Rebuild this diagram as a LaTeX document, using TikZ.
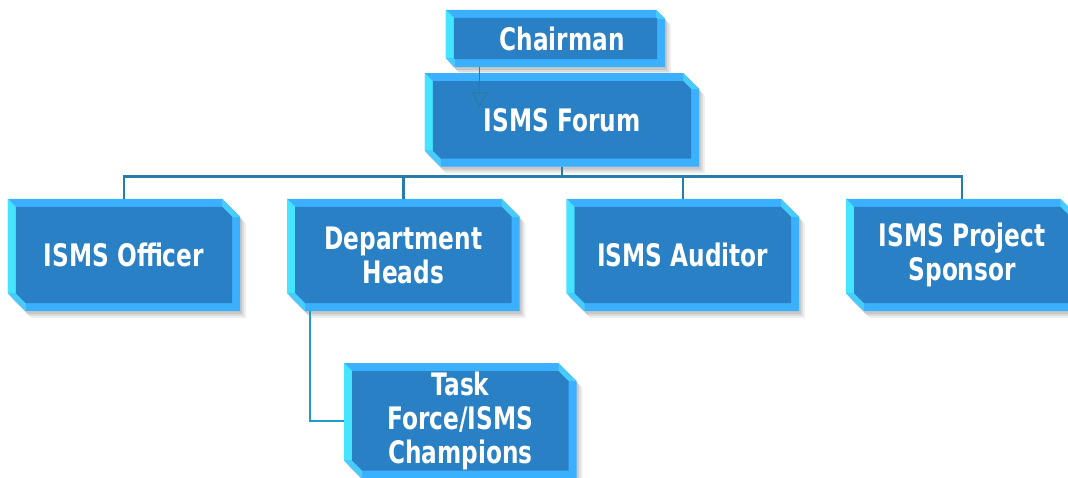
\documentclass[tikz,border=0pt]{standalone}
\usepackage{fontspec}
\newfontfamily\tilefont{DejaVu Sans}[FakeStretch=0.75]
\usetikzlibrary{positioning,backgrounds,arrows.meta}

\definecolor{facebl}{HTML}{2980C4}
\definecolor{rimbl}{HTML}{3AB0FF}
\definecolor{rimcy}{HTML}{45E4FF}
\definecolor{cornercy}{HTML}{48CCFF}
\definecolor{linebl}{HTML}{267DA7}
\definecolor{branchbl}{HTML}{2399D2}

\tikzset{
  tile/.style={inner sep=0pt, text=white, align=center,
    font=\tilefont\bfseries\fontsize{31}{34}\selectfont},
  unit/.style={tile, minimum width=232pt, minimum height=112pt},
  bus/.style={draw=linebl, line width=2.4pt},
  branch/.style={draw=branchbl, line width=2.4pt},
  feed/.style={draw=linebl, line width=1.3pt, -{Triangle[open, length=15pt, width=16pt]}},
}

% raised tile under a node: #1 node, #2 rim width, #3 corner cut
\newcommand{\tile}[3]{%
  \foreach \d/\o in {2/.10, 4/.08, 6/.06}
    \fill[black, opacity=\o, transform canvas={shift={(\d pt,-\d pt-1pt)}}]
      ([yshift=#3]#1.south west) -- (#1.north west) -- ([xshift=-#3]#1.north east)
      -- ([yshift=-#3]#1.north east) -- (#1.south east) -- ([xshift=#3]#1.south west) -- cycle;
  \fill[rimbl]
    ([yshift=#3]#1.south west) -- (#1.north west) -- ([xshift=-#3]#1.north east)
    -- ([yshift=-#3]#1.north east) -- (#1.south east) -- ([xshift=#3]#1.south west) -- cycle;
  \fill[rimcy]
    ([yshift=#3]#1.south west) -- (#1.north west) -- ([shift={(#2,-#2)}]#1.north west)
    -- ([shift={(#2,#3)}]#1.south west) -- cycle;
  \fill[cornercy]
    ([xshift=-#3]#1.north east) -- ([yshift=-#3]#1.north east)
    -- ([shift={(-#2,-#3)}]#1.north east) -- ([shift={(-#3,-#2)}]#1.north east) -- cycle;
  \fill[cornercy]
    ([yshift=#3]#1.south west) -- ([xshift=#3]#1.south west)
    -- ([shift={(#3,#2)}]#1.south west) -- ([shift={(#2,#3)}]#1.south west) -- cycle;
  \fill[facebl]
    ([shift={(#2,#3)}]#1.south west) -- ([shift={(#2,-#2)}]#1.north west)
    -- ([shift={(-#3,-#2)}]#1.north east) -- ([shift={(-#2,-#3)}]#1.north east)
    -- ([shift={(-#2,#2)}]#1.south east) -- ([shift={(#3,#2)}]#1.south west) -- cycle;
}

\begin{document}
\begin{tikzpicture}
    \useasboundingbox (0,0) rectangle (1068pt,-478pt);

    \node [tile, minimum width=219pt, minimum height=57pt] (chair) at (555.5pt,-38.5pt) {\hspace*{13pt}Chairman};
    \node [tile, minimum width=274pt, minimum height=93pt, below=6pt of chair, xshift=6.5pt] (forum) {ISMS Forum};

    \node [unit] (officer) at (124pt,-255pt) {ISMS Officer};
    \node [unit, right=47pt of officer] (dept) {Department\\Heads};
    \node [unit, right=47pt of dept] (auditor) {ISMS Auditor};
    \node [unit, right=47pt of auditor] (sponsor) {ISMS Project\\Sponsor};
    \node [unit, minimum height=115pt, below right=52pt and 57pt of dept.south west] (task) {Task\\Force/ISMS\\Champions};

    \begin{scope}[on background layer]
        \foreach \n/\c in {chair/9pt, forum/16pt, officer/18pt, dept/18pt,
                           auditor/18pt, sponsor/18pt, task/18pt}
            \tile{\n}{8pt}{\c};
    \end{scope}

    % reporting lines
    \foreach \c in {officer,dept,auditor,sponsor}
        \draw [bus] (forum.south) -- ++(0,-10pt) -| (\c.north);
    \draw [branch] ([xshift=23pt]dept.south west) |- (task.west);

    \coordinate (drop) at ([xshift=55pt,yshift=-34pt]forum.north west);
    \draw [feed] (chair.south -| drop) -- (drop);
\end{tikzpicture}
\end{document}
